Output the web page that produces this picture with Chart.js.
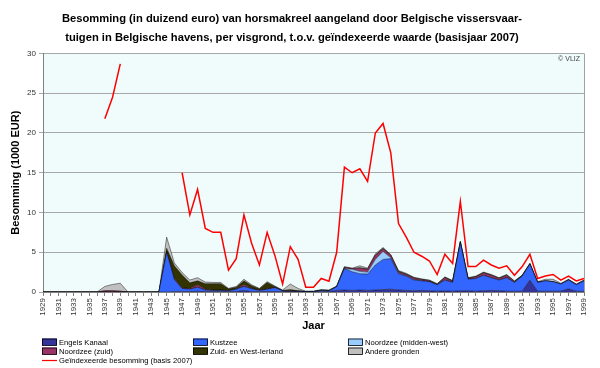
<!DOCTYPE html>
<html><head><meta charset="utf-8">
<script src="https://cdn.jsdelivr.net/npm/chart.js@4/dist/chart.umd.min.js"></script>
<style>html,body{margin:0;padding:0;background:#fff}#wrap{width:600px;height:368px;position:relative}</style>
</head><body><div id="wrap"><canvas id="c" width="600" height="368"></canvas></div>
<script>
const years = ['1929','1930','1931','1932','1933','1934','1935','1936','1937','1938','1939','1940','1941','1942','1943','1944',
'1945','1946','1947','1948','1949','1950','1951','1952','1953','1954','1955','1956','1957','1958','1959','1960','1961','1962','1963','1964',
'1965','1966','1967','1968','1969','1970','1971','1972','1973','1974','1975','1976','1977','1978','1979','1980','1981','1982','1983','1984',
'1985','1986','1987','1988','1989','1990','1991','1992','1993','1994','1995','1996','1997','1998','1999'];

// 1929-1936 | 1937-1939 | 1940-1944 | 1945-1999
const engelsKanaal = [0,0,0,0,0,0,0,0, 0,0,0, 0,0,0,0,0,
 0,0.05,0.05,0.05,0.1, 0.05,0.05,0.05,0.05,0.05, 0.2,0.05,0.05,0.05,0.05, 0.05,0.05,0.05,0.03,0.03,
 0.05,0.05,0.2,0.25,0.2, 0.25,0.2,0.25,0.3,0.35, 0.25,0.2,0.15,0.2,0.15, 0.1,0.15,0.1,0.15,0.15,
 0.1,0.15,0.2,0.15,0.1, 0.1,0.1,1.5,0.1,0.1, 0.1,0.1,0.4,0.1,0.1];
const kustzee = [0,0,0,0,0,0,0,0, 0,0,0, 0,0,0,0,0,
 5.0,1.5,0.4,0.3,0.5, 0.2,0.15,0.15,0.1,0.3, 0.5,0.35,0.15,0.3,0.5, 0.1,0.05,0.05,0.03,0.03,
 0.15,0.1,0.45,2.7,2.35, 2.05,2.05,3.15,3.8,3.85, 2.05,1.8,1.35,1.2,1.15, 0.8,1.35,1.1,6.05,1.45,
 1.6,1.95,1.6,1.35,1.7, 1.1,1.9,2.0,1.1,1.3, 1.2,0.9,1.1,0.8,1.3];
const noordzeeMiddenWest = [0,0,0,0,0,0,0,0, 0,0,0, 0,0,0,0,0,
 0,0,0,0,0, 0,0,0,0,0, 0,0,0,0,0, 0,0,0,0,0,
 0,0,0,0,0.3, 0.3,0.25,0.7,1.0,0.1, 0.05,0.05,0.05,0,0, 0,0,0,0,0,
 0,0,0,0,0, 0,0,0,0,0, 0,0,0,0,0];
const noordzeeZuid = [0,0,0,0,0,0,0,0, 0.15,0.15,0.1, 0,0,0,0,0,
 0.1,0.15,0.1,0.1,0.3, 0.1,0.05,0.05,0.05,0.05, 0.25,0.05,0.05,0.05,0.05, 0,0.05,0,0,0,
 0.02,0.02,0.05,0.15,0.1, 0.4,0.35,0.5,0.3,0.3, 0.2,0.15,0.2,0.15,0.1, 0.05,0.3,0.15,0.1,0.1,
 0.2,0.3,0.3,0.2,0.3, 0.1,0.05,0.05,0.05,0, 0,0,0.05,0.05,0.05];
const zuidWestIerland = [0,0,0,0,0,0,0,0, 0,0,0, 0,0,0,0,0,
 0.4,1.6,1.6,0.7,0.5, 0.7,0.8,0.8,0.2,0.2, 0.45,0.35,0.15,0.8,0.1, 0.05,0.15,0.05,0.02,0.02,
 0.03,0.03,0,0,0, 0.05,0.05,0.05,0.1,0.05, 0.05,0.05,0.05,0.05,0.05, 0.05,0.05,0.05,0.05,0.05,
 0.05,0.05,0.05,0.05,0.05, 0.05,0.05,0.05,0,0, 0,0,0,0,0];
const andereGronden = [0,0,0,0,0,0,0,0, 0.55,0.8,1.0, 0,0,0,0,0,
 1.4,0.35,0.3,0.35,0.4, 0.2,0.15,0.15,0.05,0.1, 0.2,0.1,0.05,0.1,0.05, 0.05,0.7,0.3,0.02,0.02,
 0.05,0.05,0.05,0.1,0.05, 0.25,0.1,0.15,0.1,0.05, 0.1,0.1,0.05,0.05,0.05, 0.05,0.05,0.05,0.05,0.05,
 0.05,0.05,0.05,0.05,0.05, 0.05,0,0,0.05,0.2, 0.3,0.1,0.05,0.05,0.05];
const geindexeerd = [null,null,null,null,null,null,null,null, 21.8,24.5,28.7, null,null,null,null,null,
 null,null,15.0,9.7,12.9, 8.0,7.5,7.5,2.75,4.2, 9.7,6.1,3.4,7.5,4.6, 1.0,5.7,4.1,0.6,0.6,
 1.7,1.35,5.0,15.7,15.0, 15.5,13.9,20.0,21.2,17.5, 8.6,6.9,5.0,4.5,3.9, 2.2,4.75,3.6,11.4,3.2,
 3.2,4.0,3.4,3.0,3.3, 2.1,3.2,4.75,1.7,2.0, 2.2,1.5,2.0,1.4,1.7];
const yTicks = [0,5,10,15,20,25,30];

const FONT = "'Liberation Sans', Arial, sans-serif";

function area(label, data, color, fill){
  return {label, data, backgroundColor: color, borderColor:'#000', borderWidth:0.45,
    fill, pointRadius:0, pointHoverRadius:0, tension:0, yAxisID:'y', order:2};
}

const legendPos = [
  {x:42,y:342},{x:193,y:342},{x:348,y:342},
  {x:42,y:351},{x:193,y:351},{x:348,y:351},
  {x:42,y:360}
];

const decor = {
  id:'decor',
  beforeDraw(chart){
    const {ctx, chartArea:a} = chart;
    ctx.save();
    ctx.fillStyle = '#f0fbfb';
    ctx.fillRect(a.left, a.top, a.right-a.left, a.bottom-a.top);
    ctx.restore();
  },
  afterDraw(chart){
    const {ctx, chartArea:a} = chart;
    ctx.save();
    ctx.strokeStyle = '#a0a0a0'; ctx.lineWidth = 1;
    ctx.beginPath();
    ctx.moveTo(a.right+0.5, a.top); ctx.lineTo(a.right+0.5, a.bottom);
    ctx.stroke();
    ctx.fillStyle = '#444';
    ctx.font = "7px " + FONT;
    ctx.textAlign = 'right'; ctx.textBaseline = 'middle';
    ctx.fillText('© VLIZ', a.right-4, a.top+6);
    // legend
    ctx.font = "7.6px " + FONT;
    ctx.textAlign = 'left';
    chart.data.datasets.forEach((ds,i)=>{
      const p = legendPos[i];
      if (ds.fill === false) {
        ctx.strokeStyle = ds.borderColor; ctx.lineWidth = 1.2;
        ctx.beginPath(); ctx.moveTo(p.x, p.y+0.5); ctx.lineTo(p.x+15, p.y+0.5); ctx.stroke();
      } else {
        ctx.fillStyle = ds.backgroundColor;
        ctx.fillRect(p.x, p.y-3.5, 15, 7);
        ctx.strokeStyle = '#000'; ctx.lineWidth = 0.8;
        ctx.strokeRect(p.x+0.5, p.y-3, 14, 6.5);
      }
      ctx.fillStyle = '#000';
      ctx.fillText(ds.label, p.x+17, p.y+0.5);
    });
    ctx.restore();
  }
};

new Chart(document.getElementById('c'), {
  type:'line',
  data:{
    labels: years,
    datasets:[
      area('Engels Kanaal', engelsKanaal, '#333399', 'origin'),
      area('Kustzee', kustzee, '#3366ff', '-1'),
      area('Noordzee (midden-west)', noordzeeMiddenWest, '#99ccff', '-1'),
      area('Noordzee (zuid)', noordzeeZuid, '#993366', '-1'),
      area('Zuid- en West-Ierland', zuidWestIerland, '#333300', '-1'),
      area('Andere gronden', andereGronden, '#c0c0c0', '-1'),
      {label:'Geïndexeerde besomming (basis 2007)', data: geindexeerd, borderColor:'#ff0000', backgroundColor:'#ff0000',
       borderWidth:1.5, fill:false, pointRadius:0, spanGaps:false, tension:0, yAxisID:'yr', order:1}
    ]
  },
  options:{
    responsive:false, animation:false,
    layout:{padding:{left:0,right:16,top:0,bottom:0}},
    plugins:{
      legend:{display:false},
      tooltip:{enabled:false},
      title:{display:true,
        text:['Besomming (in duizend euro) van horsmakreel aangeland door Belgische vissersvaar-',
              'tuigen in Belgische havens, per visgrond, t.o.v. geïndexeerde waarde (basisjaar 2007)'],
        color:'#000', font:{family:FONT, size:11.2, weight:'bold', lineHeight:1.7},
        padding:{top:9,bottom:6.4}}
    },
    scales:{
      x:{
        offset:false,
        afterFit(s){ s.height = 76; },
        grid:{display:true, drawOnChartArea:false, drawTicks:true, tickLength:4, color:'#808080'},
        border:{color:'#808080'},
        ticks:{autoSkip:false, maxRotation:90, minRotation:90, padding:2, color:'#333',
          font:{family:FONT, size:8},
          callback(v,i){ return i%2===0 ? years[i] : ''; }},
        title:{display:true, text:'Jaar', color:'#000', font:{family:FONT, size:11, weight:'bold'}, padding:{top:0,bottom:35}}
      },
      y:{
        stacked:true, min:0, max:30,
        afterFit(s){ s.width = 43; },
        afterBuildTicks(s){ s.ticks = yTicks.map(v=>({value:v})); },
        grid:{color:'#a8a8a8', tickLength:4, drawTicks:true},
        border:{color:'#808080'},
        ticks:{color:'#333', padding:3, font:{family:FONT, size:8}},
        title:{display:true, text:'Besomming (1000 EUR)', color:'#000', font:{family:FONT, size:11, weight:'bold'}, padding:{top:9,bottom:0}}
      },
      yr:{display:false, min:0, max:30}
    }
  },
  plugins:[decor]
});
</script>
</body></html>
